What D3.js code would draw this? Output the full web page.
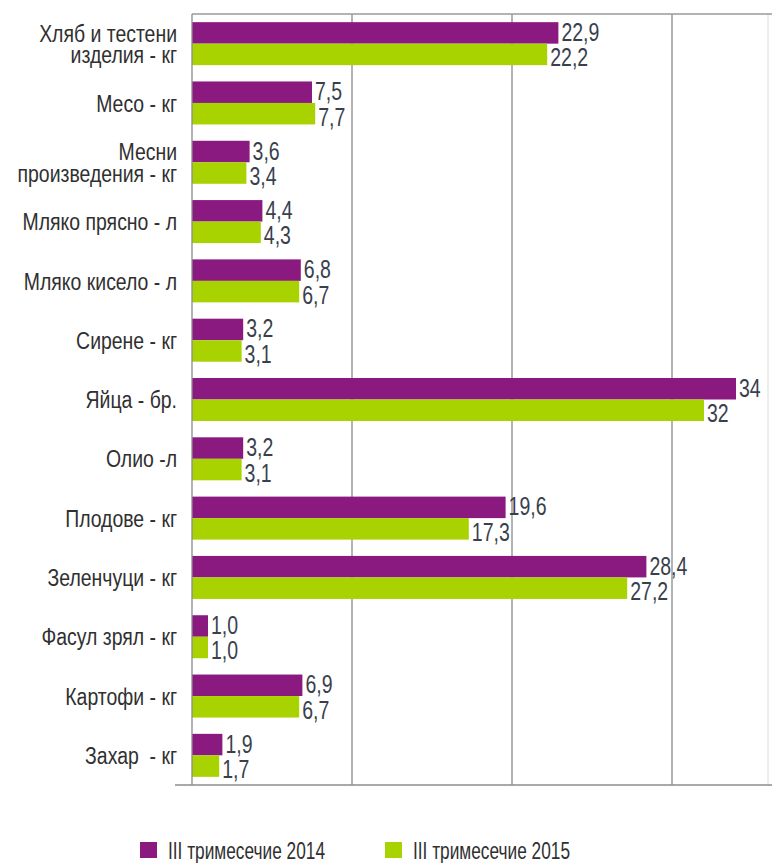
<!DOCTYPE html>
<html>
<head>
<meta charset="utf-8">
<script src="https://cdn.jsdelivr.net/npm/d3@7"></script>
<style>
  body { margin: 0; background: #fff; }
  text { font-family: "Liberation Sans", Arial, sans-serif; }
</style>
</head>
<body>
<div id="chart"></div>
<script>
// Categories (each label may span two lines)
var categories = [
    ["Хляб и тестени", "изделия - кг"],
    ["Месо - кг"],
    ["Месни", "произведения - кг"],
    ["Мляко прясно - л"],
    ["Мляко кисело - л"],
    ["Сирене - кг"],
    ["Яйца - бр."],
    ["Олио -л"],
    ["Плодове - кг"],
    ["Зеленчуци - кг"],
    ["Фасул зрял - кг"],
    ["Картофи - кг"],
    ["Захар  - кг"]
];

var series = ["III тримесечие 2014", "III тримесечие 2015"];
var values2014 = [22.9, 7.5, 3.6, 4.4, 6.8, 3.2, 34, 3.2, 19.6, 28.4, 1.0, 6.9, 1.9];
var values2015 = [22.2, 7.7, 3.4, 4.3, 6.7, 3.1, 32, 3.1, 17.3, 27.2, 1.0, 6.7, 1.7];
// decimals shown in the value labels
var decimals = [1, 1, 1, 1, 1, 1, 0, 1, 1, 1, 1, 1, 1];
var gridTicks = [10, 20, 30];

var svgWidth = 772;
var svgHeight = 863;

var margin = { top: 14, right: 0, bottom: 78, left: 192 };
var height = svgHeight - margin.top - margin.bottom;

var colors = ["#8a1a7f", "#a8d300"];
var textColor = "#303030";

var svg = d3.select("#chart").append("svg")
    .attr("width", svgWidth)
    .attr("height", svgHeight);

var chartGroup = svg.append("g").attr("transform", `translate(${margin.left}, ${margin.top})`);

var xScale = d3.scaleLinear().domain([0, 36]).range([0, 576]);

var yScale = d3.scaleBand()
    .domain(d3.range(categories.length))
    .range([0, height])
    .paddingInner(0.275)
    .paddingOuter(0.1375);

var subScale = d3.scaleBand().domain([0, 1]).range([0, yScale.bandwidth()]);

// grid lines
chartGroup.selectAll(".grid")
    .data(gridTicks)
    .enter()
    .append("line")
    .attr("x1", d => xScale(d))
    .attr("x2", d => xScale(d))
    .attr("y1", 0)
    .attr("y2", height)
    .attr("stroke", "#8c8c8c")
    .attr("stroke-width", 1.3);

// right border (faint)
chartGroup.append("line")
    .attr("x1", xScale(36)).attr("x2", xScale(36))
    .attr("y1", 0).attr("y2", height)
    .attr("stroke", "#dcdcdc");

// top and bottom lines
chartGroup.append("line")
    .attr("x1", 0).attr("x2", svgWidth - margin.left)
    .attr("y1", 0).attr("y2", 0)
    .attr("stroke", "#9a9a9a").attr("stroke-width", 1.3);

chartGroup.append("line")
    .attr("x1", -17).attr("x2", svgWidth - margin.left)
    .attr("y1", height).attr("y2", height)
    .attr("stroke", "#8c8c8c").attr("stroke-width", 1.3);

var allSeries = [values2014, values2015];

var fmt = function(v, i) {
    return d3.format("." + decimals[i] + "f")(v).replace(".", ",");
};

allSeries.forEach(function(vals, s) {
    chartGroup.selectAll(".bar" + s)
        .data(vals)
        .enter()
        .append("rect")
        .attr("x", 0)
        .attr("y", (d, i) => yScale(i) + subScale(s))
        .attr("width", d => xScale(d))
        .attr("height", subScale.bandwidth())
        .attr("fill", colors[s]);

    // value labels, squeezed horizontally like a narrow font
    chartGroup.selectAll(".val" + s)
        .data(vals)
        .enter()
        .append("text")
        .attr("transform", (d, i) => `translate(${xScale(d) + 3}, ${yScale(i) + subScale(s) + subScale.bandwidth() / 2 + (s === 0 ? -1 : 3)}) scale(0.78, 1)`)
        .attr("dy", "0.36em")
        .attr("font-size", "25px")
        .attr("fill", "#3a3f4c")
        .text((d, i) => fmt(d, i));
});

// left axis line
chartGroup.append("line")
    .attr("x1", 0).attr("x2", 0)
    .attr("y1", 0).attr("y2", height)
    .attr("stroke", "#8c8c8c").attr("stroke-width", 1.3);

// category labels
var labels = chartGroup.selectAll(".cat")
    .data(categories)
    .enter()
    .append("text")
    .attr("text-anchor", "end")
    .attr("font-size", "24px")
    .attr("fill", textColor)
    .style("white-space", "pre")
    .attr("transform", (d, i) => `translate(-15, ${yScale(i) + yScale.bandwidth() / 2}) scale(0.81, 1)`);

labels.selectAll("tspan")
    .data(d => d.map((t, k) => ({ t: t, k: k, n: d.length })))
    .enter()
    .append("tspan")
    .attr("x", 0)
    .attr("y", d => (d.k - (d.n - 1) / 2) * 21.5)
    .attr("dy", "0.36em")
    .text(d => d.t);

// legend
var legend = svg.append("g").attr("transform", "translate(140, 850)");
var legendX = [0, 245];

series.forEach(function(name, s) {
    var g = legend.append("g").attr("transform", `translate(${legendX[s]}, 0)`);
    g.append("rect")
        .attr("x", 0).attr("y", -8)
        .attr("width", 17).attr("height", 16)
        .attr("fill", colors[s]);
    g.append("text")
        .attr("transform", "translate(28, 0) scale(0.72, 1)")
        .attr("dy", "0.36em")
        .attr("font-size", "24px")
        .attr("fill", textColor)
        .text(name);
});
</script>
</body>
</html>
